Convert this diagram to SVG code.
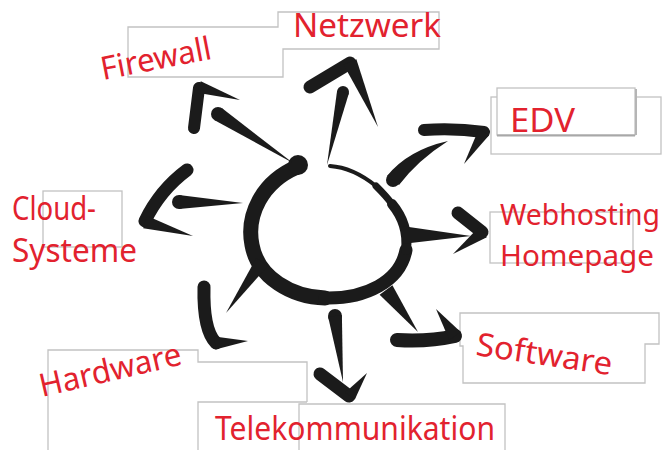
<svg xmlns="http://www.w3.org/2000/svg" width="667" height="450" viewBox="0 0 667 450">
  <style>
    .box { fill: #ffffff; stroke: #c2c2c2; stroke-width: 1.3; }
    .ink { fill: #1b1b1b; }
    .brush { fill: none; stroke: #1b1b1b; stroke-linecap: round; stroke-linejoin: round; }
    .lbl { fill: #e2222e; font-family: "Noto Sans", "Liberation Sans", sans-serif; font-size: 32px; }
    .sm { font-size: 29px; }
  </style>
  <rect x="0" y="0" width="667" height="450" fill="#ffffff"/>

  <!-- frames -->
  <g id="frames">
    <polygon class="box" points="128,27 278,27 278,12 439,12 439,49 283,49 283,77 128,77"/>
    <rect class="box" x="491" y="97" width="170" height="57"/>
    <rect class="box" x="497" y="88" width="138" height="47"/>
    <line x1="497" y1="135.5" x2="635" y2="135.5" stroke="#a8a8a8" stroke-width="2"/>
    <line x1="636" y1="89" x2="636" y2="135" stroke="#b5b5b5" stroke-width="2"/>
    <rect class="box" x="490" y="212" width="143" height="51"/>
    <polygon class="box" points="460,313 659,313 659,344 645,344 645,383 463,383 463,346 460,346"/>
    <rect class="box" x="43" y="191" width="79" height="56"/>
    <polyline class="box" style="fill:none" points="48,452 48,350 198,350 198,362 307,362 307,402"/>
    <polyline class="box" style="fill:none" points="198,452 198,402 307,402"/>
    <polyline class="box" style="fill:none" points="299,452 299,404 505,404 505,452"/>
  </g>

  <g id="connectors">
    <!-- central loop -->
    <g id="hub">
      <path class="brush" stroke-width="4" d="M297,167 C262,182 246,215 252,245 C258,278 292,297 325,298 C365,299 400,282 406,250 C409,225 396,202 376,186 C361,174 345,167 330,166"/>
      <path class="brush" stroke-width="15" d="M297,167 C262,182 246,215 252,245 C258,278 292,297 325,298"/>
      <path class="brush" stroke-width="13" d="M325,298 C365,299 400,282 406,250"/>
      <path class="brush" stroke-width="10" d="M406,250 C408,232 402,216 392,204"/>
      <path class="brush" stroke-width="7" d="M392,204 C387,197 381,191 376,186"/>
      <circle class="ink" cx="298" cy="165" r="10"/>
    </g>
    <!-- Firewall -->
    <g id="arrow-firewall">
      <circle class="ink" cx="218" cy="114" r="7"/>
      <polygon class="ink" points="214.2,119.9 293,163 221.8,108.1"/>
      <path class="brush" stroke-width="12" d="M194,128 L199,88"/>
      <polygon class="ink" points="197.2,92.7 240,100 200.8,81.3"/>
    </g>
    <!-- Netzwerk -->
    <g id="arrow-netzwerk">
      <circle class="ink" cx="343" cy="92" r="6"/>
      <polygon class="ink" points="337.1,90.7 327,165 348.9,93.3"/>
      <path class="brush" stroke-width="13" d="M310,87 L350,63"/>
      <polygon class="ink" points="343.6,64.8 378,127 356.4,59.2"/>
    </g>
    <!-- EDV -->
    <g id="arrow-edv">
      <circle class="ink" cx="393" cy="180" r="7"/>
      <path class="ink" d="M387,176 Q408,150 448,141 Q418,160 399,185 Z"/>
      <path class="brush" stroke-width="12" d="M424,130 Q455,128 484,132"/>
      <polygon class="ink" points="478.9,128.8 464,164 489.1,135.2"/>
    </g>
    <!-- Webhosting -->
    <g id="arrow-webhosting">
      <polygon class="ink" points="402,226 471,236 402,244"/>
      <path class="brush" stroke-width="13" d="M458,213 L482,232"/>
      <polygon class="ink" points="479.2,226.8 453,254 486.8,237.2"/>
    </g>
    <!-- Software -->
    <g id="arrow-software">
      <polygon class="ink" points="379.6,294.8 418,332 392.4,285.2"/>
      <path class="brush" stroke-width="14" d="M397,340 Q428,342 455,336"/>
      <polygon class="ink" points="460.7,332 436,309 449.3,340"/>
    </g>
    <!-- Telekommunikation -->
    <g id="arrow-telekom">
      <circle class="ink" cx="335" cy="316" r="7"/>
      <polygon class="ink" points="328.1,316.8 343,382 341.9,315.2"/>
      <path class="brush" stroke-width="13" d="M320,374 L349,396"/>
      <polygon class="ink" points="354.8,399.6 367,373 345.2,392.4"/>
    </g>
    <!-- Hardware -->
    <g id="arrow-hardware">
      <polygon class="ink" points="256.3,257.9 226,313 267.7,266.1"/>
      <path class="brush" stroke-width="13" d="M204,287 Q203,330 216,343"/>
      <polygon class="ink" points="215.4,349.5 248,341 214.6,336.5"/>
    </g>
    <!-- Cloud -->
    <g id="arrow-cloud">
      <circle class="ink" cx="179" cy="202" r="7"/>
      <polygon class="ink" points="179,195 243,203 179,209"/>
      <path class="brush" stroke-width="13" d="M187,170 Q160,190 145,221"/>
      <polygon class="ink" points="143.2,228.2 193,236 146.8,215.8"/>
    </g>
  </g>

  <g id="node-netzwerk"><text class="lbl" x="293" y="37" textLength="148" lengthAdjust="spacingAndGlyphs">Netzwerk</text></g>
  <g id="node-firewall"><text class="lbl" x="103" y="80" textLength="112" lengthAdjust="spacingAndGlyphs" transform="rotate(-11 103 80)">Firewall</text></g>
  <g id="node-edv"><text class="lbl" x="510" y="132" textLength="65" lengthAdjust="spacingAndGlyphs">EDV</text></g>
  <g id="node-webhosting"><text class="lbl sm" x="500" y="225" textLength="160" lengthAdjust="spacingAndGlyphs">Webhosting</text><text class="lbl sm" x="500" y="266" textLength="154" lengthAdjust="spacingAndGlyphs">Homepage</text></g>
  <g id="node-cloud"><text class="lbl" x="12" y="220" textLength="84" lengthAdjust="spacingAndGlyphs">Cloud-</text><text class="lbl" x="12" y="262" textLength="125" lengthAdjust="spacingAndGlyphs">Systeme</text></g>
  <g id="node-hardware"><text class="lbl" x="42" y="397" textLength="145" lengthAdjust="spacingAndGlyphs" transform="rotate(-13 42 397)">Hardware</text></g>
  <g id="node-software"><text class="lbl" x="475" y="355" textLength="137" lengthAdjust="spacingAndGlyphs" transform="rotate(8.5 475 355)">Software</text></g>
  <g id="node-telekom"><text class="lbl" x="215" y="440" textLength="280" lengthAdjust="spacingAndGlyphs">Telekommunikation</text></g>
</svg>
